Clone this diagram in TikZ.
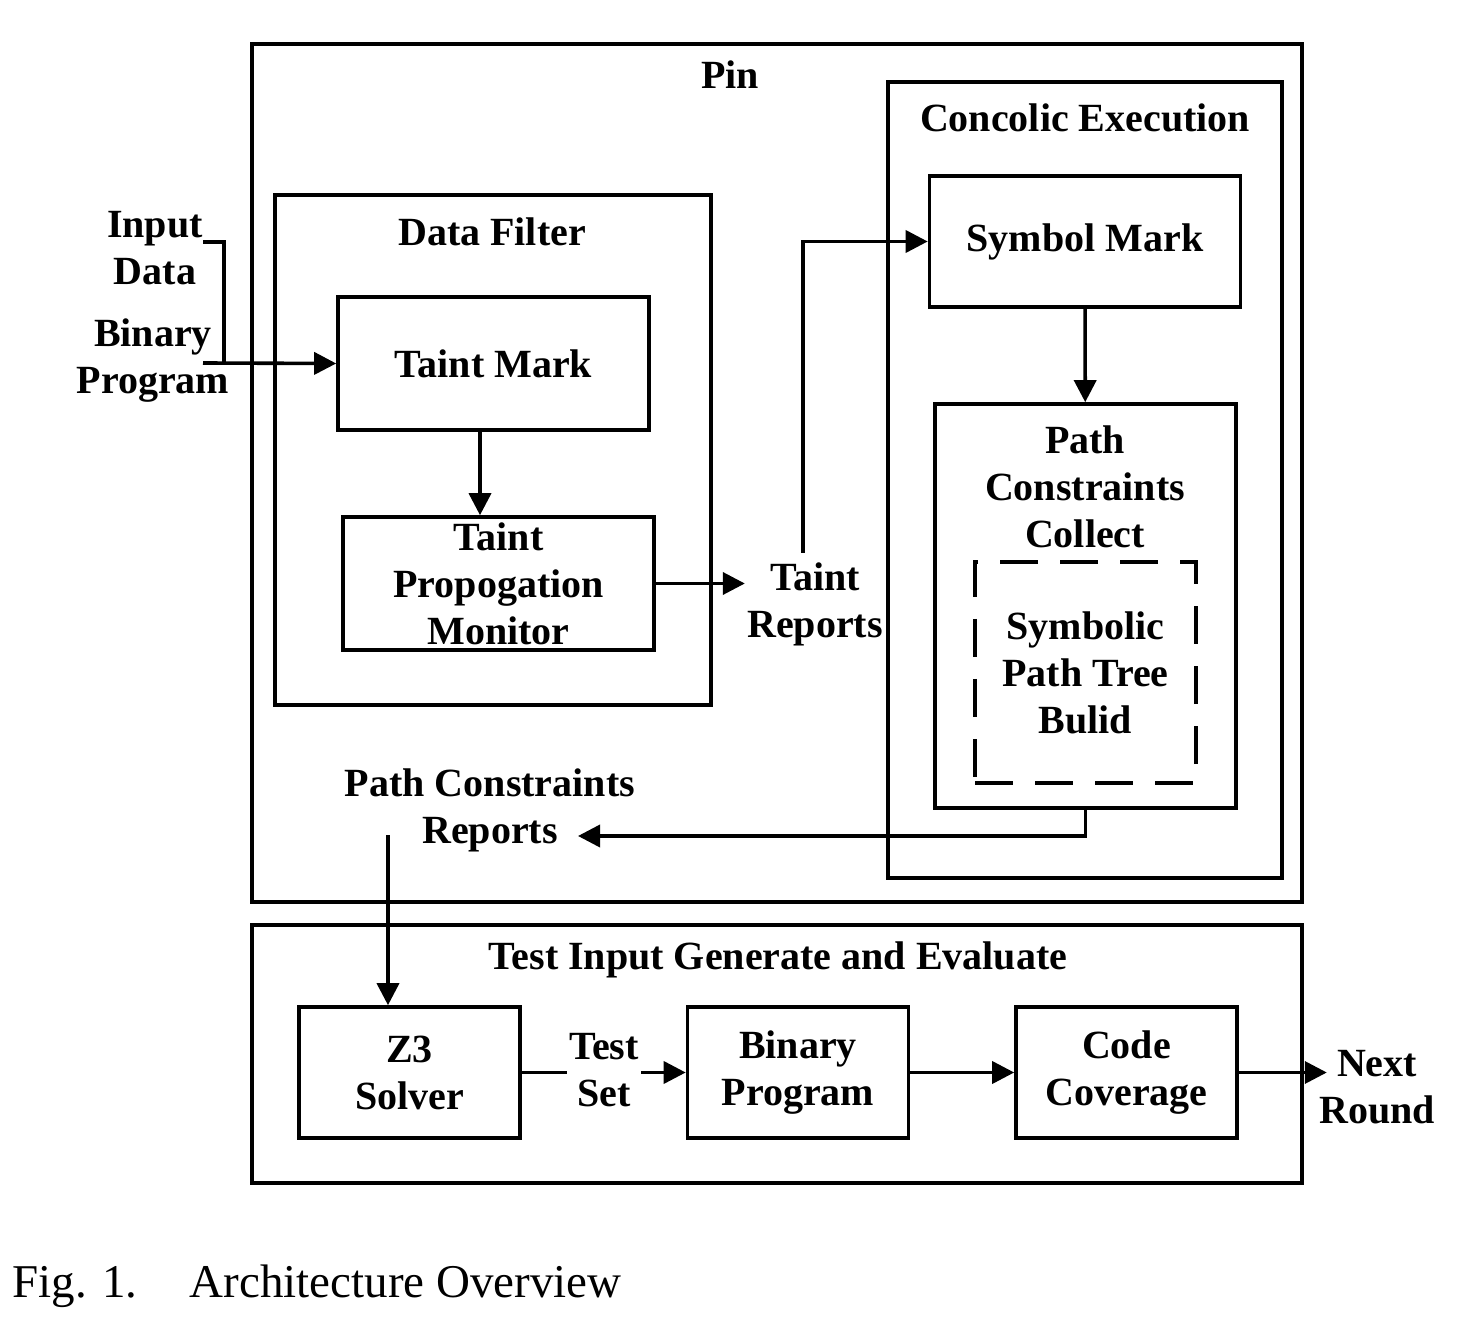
\documentclass[tikz,border=0pt]{standalone}
\usepackage{fontspec}
\setmainfont{Liberation Serif}
\usetikzlibrary{positioning, fit, arrows.meta}
\newcommand\diagfont{\fontsize{20}{23.5}\selectfont}
\tikzset{
	frame/.style ={
		draw,
		line width=1.8pt,
		inner sep=0pt,
	},
	box/.append style={
		frame,
		align = center,
		font={\diagfont\bfseries}
	},
	lbl/.append style={
		align = center,
		inner sep=1pt,
		font={\diagfont\bfseries}
	},
	dashbox/.append style={
		box,
		line width=2.2pt,
		dash pattern=on 19pt off 11pt,
	},
	arr/.style={
		line width=1.8pt,
		-{Triangle[length=11pt,width=11pt]}
	}
}

\begin{document}
\begin{tikzpicture}[x=0.5pt, y=-0.5pt,
	capt/.style = {font={\fontsize{23.5}{28}\selectfont}, inner sep=0pt},
	link/.style = {line width=1.8pt},
	wide/.style = {minimum width=155.5pt, minimum height=66.5pt},
	small/.style = {minimum width=110.5pt, minimum height=65.5pt}
	]
	\useasboundingbox (0,0) rectangle (1478,1336);
	% Pin
	\node[frame, fit={(252,44) (1302,902)}](pin){};
	\node[lbl](pinlbl) at (730,75){Pin};

	\node[frame, fit={(275,195) (711,705)}](dfilter){};
	\node[lbl](dfilterlbl) at (492,232){Data Filter};
	\node[box, wide](tmark) at (493.5,363.5){Taint Mark};
	\node[box, wide](tpm) at (498.5,583.5){Taint\\Propogation\\Monitor};

	\node[frame, fit={(888,82) (1282,878)}](concolic){};
	\node[lbl](concoliclbl) at (1085,118){Concolic Execution};
	\node[box, wide, minimum height=65.5pt](smark) at (1085,241.5){Symbol Mark};
	\node[box, minimum width=150.5pt, minimum height=202pt](pcc) at (1085.5,606){};
	\node[lbl](pcclbl) at (1085,487){Path\\Constraints\\Collect};
	\node[dashbox, minimum width=110.5pt, minimum height=110.5pt](sptb) at (1085.5,672.5){Symbolic\\Path Tree\\Bulid};

	% Inputs and reports
	\node[lbl](indata) at (155,248){Input\\Data};
	\node[lbl](binprog) at (153,361){Binary\\Program};
	\node[lbl](trep) at (815,604){Taint\\Reports};
	\node[lbl](pcrep) at (490,810){Path Constraints\\Reports};

	% Test Input Generate and Evaluate
	\node[frame, fit={(252,925) (1302,1183)}](tige){};
	\node[lbl](tigelbl) at (778,960){Test Input Generate and Evaluate};
	\node[box, small](z3) at (409.5,1072.5){Z3\\Solver};
	\node[lbl](tset) at (604,1070){Test\\Set};
	\node[box, small](bprog) at (798,1072.5){Binary\\Program};
	\node[box, small](ccov) at (1126.5,1072.5){Code\\Coverage};
	\node[lbl](nround) at (1377,1087){Next\\Round};

	\node[capt, anchor=base west](cap) at (12,1297){Fig. 1.\hspace{26pt}Architecture Overview};

	% connectors
	\coordinate (inend) at (203,242);
	\coordinate (injoin) at (224,363);
	\coordinate (bpend) at (203,363);
	\draw[link] (inend) -| (injoin);
	\draw[arr] (bpend) -- (tmark.west);
	\draw[arr] ([xshift=-6.75pt]tmark.south) -- ([xshift=-6.75pt]tmark.south |- tpm.north);
	\draw[arr] (tpm.east) -- (trep.west |- tpm.east);
	\coordinate (trtop) at (803,553);
	\draw[arr] (trtop) |- (smark.west);
	\draw[arr] (smark) -- (pcc);
	\coordinate (pcin) at (578,836);
	\draw[arr] (pcc.south) |- (pcin);
	\coordinate (pcout) at (388,835);
	\draw[arr] (pcout) -- (pcout |- z3.north);
	\draw[link] (z3.east) -- (tset.west |- z3.east);
	\draw[arr] (tset.east |- bprog.west) -- (bprog.west);
	\draw[arr] (bprog) -- (ccov);
	\draw[arr] (ccov.east) -- ([xshift=5pt]nround.west |- ccov.east);
\end{tikzpicture}
\end{document}
